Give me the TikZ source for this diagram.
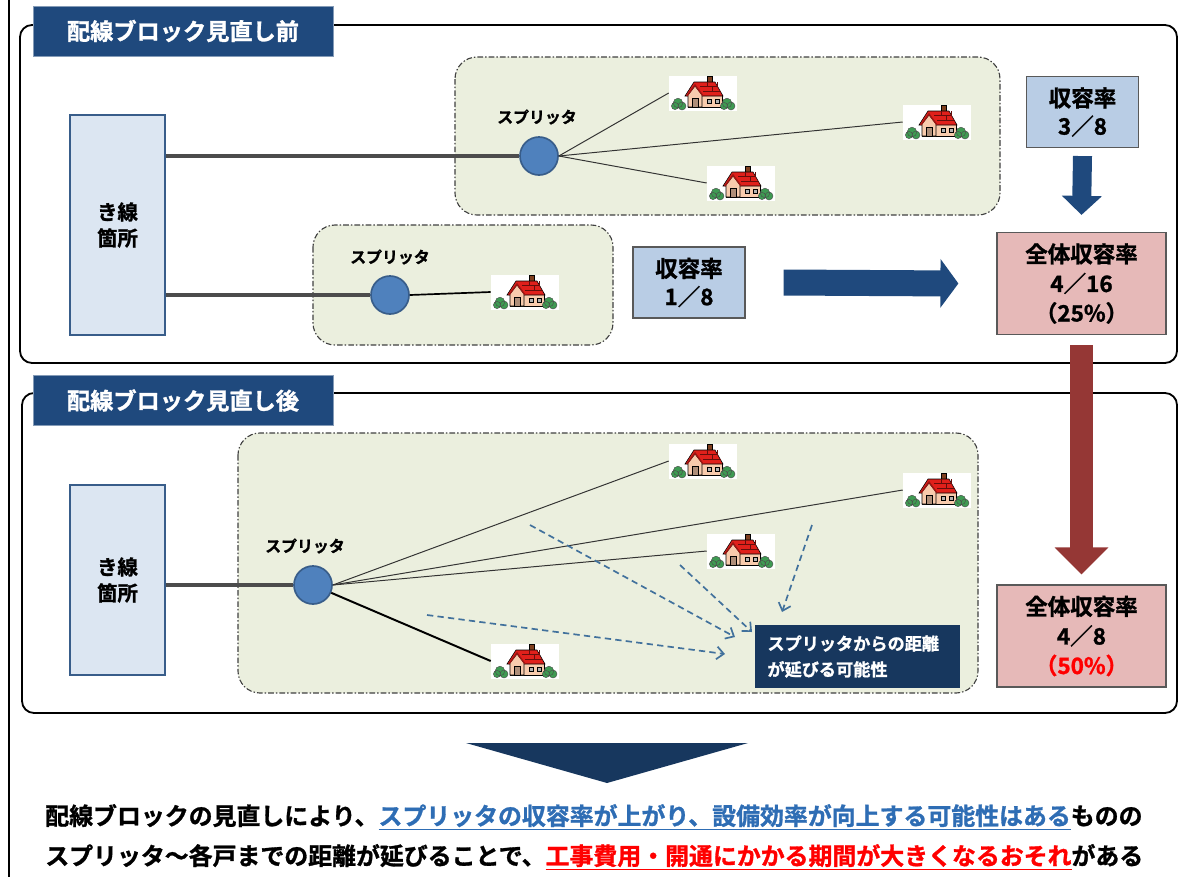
\documentclass[tikz,border=0pt]{standalone}
\usepackage{fontspec}
\setmainfont{Noto Sans CJK JP}[BoldFont={Noto Sans CJK JP Bold}, BoldFeatures={FakeBold=1.2}]
\usetikzlibrary{arrows.meta}

\definecolor{tabblue}{HTML}{1F497D}
\definecolor{navy}{HTML}{17375E}
\definecolor{feederfill}{HTML}{DCE6F2}
\definecolor{feederedge}{HTML}{385D8A}
\definecolor{groupfill}{HTML}{EBEFDE}
\definecolor{splitfill}{HTML}{4F81BD}
\definecolor{ratefill}{HTML}{B9CDE5}
\definecolor{totalfill}{HTML}{E6B9B8}
\definecolor{redarrow}{HTML}{953735}
\definecolor{dashblue}{HTML}{41719C}
\definecolor{noteblue}{HTML}{2E6DB4}
\definecolor{roofred}{HTML}{E0201B}
\definecolor{wallpink}{HTML}{F8CBAD}
\definecolor{bush}{HTML}{3E9A52}
\definecolor{chimney}{HTML}{7F3F1F}

\tikzset{
  tab/.style={fill=tabblue, draw=tabblue!55!white, text=white, font=\bfseries\fontsize{16.5}{20}\selectfont, minimum width=7.5cm, minimum height=1.25cm, inner sep=0pt},
  section/.style={line width=1.3pt, rounded corners=0.3cm},
  group/.style={draw=black!75, fill=groupfill, line width=0.8pt, rounded corners=0.55cm, dash pattern=on 4pt off 1.5pt on 1pt off 1.5pt},
  feeder/.style={draw=feederedge, fill=feederfill, line width=1.6pt, minimum width=2.375cm, align=center, font=\bfseries\fontsize{14.5}{18.5}\selectfont},
  splitter/.style={circle, draw=feederedge, fill=splitfill, line width=1.2pt, minimum size=0.95cm, inner sep=0pt},
  splitlabel/.style={font=\bfseries\fontsize{11.3}{13}\selectfont},
  feed/.style={draw=black!70, line width=2.4pt},
  drop/.style={draw=black!80, line width=0.7pt},
  rate/.style={draw=black!65, fill=ratefill, line width=0.8pt, minimum width=2.8cm, minimum height=1.775cm, align=center, font=\bfseries\fontsize{16}{20}\selectfont},
  total/.style={draw=black!65, fill=totalfill, line width=0.8pt, minimum width=4.225cm, minimum height=2.55cm, align=center, font=\bfseries\fontsize{16}{21}\selectfont},
  note/.style={fill=navy, text=white, minimum width=5.125cm, minimum height=1.575cm, text width=4.5cm, align=left, inner xsep=0.3cm, font=\bfseries\fontsize{12.2}{18.4}\selectfont},
  bigarrow/.style={draw=tabblue, line width=0.65cm, -{Triangle[length=0.45cm,width=1.2cm]}},
  downarrow/.style={draw=tabblue, line width=0.475cm, -{Triangle[length=0.475cm,width=0.975cm]}},
  uparrow/.style={draw=redarrow, line width=0.575cm, -{Triangle[length=0.675cm,width=1.3cm]}},
  longer/.style={draw=dashblue, line width=1.2pt, dash pattern=on 4.5pt off 3pt, -{Straight Barb[length=5pt,width=9pt]}},
  summary/.style={anchor=west, inner sep=0pt, font=\bfseries\fontsize{17}{20}\selectfont},
  house/.pic={
    \node[fill=white, minimum width=1.7cm, minimum height=0.875cm, inner sep=0pt] (-box) {};
    \filldraw[fill=chimney, draw=black, line width=0.3pt] (4,-17) rectangle (9,-8);
    \filldraw[fill=wallpink, draw=black, line width=0.4pt] (-15,2) rectangle (19,14);
    \filldraw[fill=roofred, draw=black, line width=0.4pt] (-18,3) -- (-9,-11) -- (12,-11) -- (20,3) -- cycle;
    \draw[black!55!roofred, line width=0.25pt] (-3,-7) -- (15,-7) (0,-2) -- (18,-2) (4,-11) -- (4,-7) (9,-7) -- (9,-2) (14,-11) -- (14,-7);
    \filldraw[fill=wallpink, draw=black, line width=0.4pt] (-15,14) -- (-15,2) -- (-8,-7) -- (-1,2) -- (-1,14) -- cycle;
    \draw[roofred!70!black, line width=1pt] (-16,3) -- (-8,-8) -- (0,3);
    \filldraw[fill=wallpink!70!black, draw=black, line width=0.4pt] (-11,14) rectangle (-5,5);
    \filldraw[fill=gray!60, draw=black, line width=0.3pt] (4,6) rectangle (8,10) (12,6) rectangle (16,10);
    \filldraw[fill=bush, draw=black!70, line width=0.3pt] (-25,10) circle[radius=0.12cm] (-21,13) circle[radius=0.1cm] (-28,13) circle[radius=0.09cm];
    \filldraw[fill=bush, draw=black!70, line width=0.3pt] (24,10) circle[radius=0.12cm] (28,13) circle[radius=0.1cm] (21,13) circle[radius=0.09cm];
  }
}

\begin{document}
\begin{tikzpicture}[x=0.025cm, y=-0.025cm]
			%%%%% START %%%%%
			\useasboundingbox (0,0) rectangle (1179,877);
			\draw[line width=1pt] (9,0) -- (9,877);
			
			\draw[section] (20,25) rectangle (1177,363);
			\node[tab] (taba) at (183,31) {配線ブロック見直し前};
			
			\node[feeder, minimum height=5.5cm] (f1) at (117.5,225) {き線\\箇所};
			\draw[group] (455,57) rectangle (1000,215);
			\draw[group] (313,225) rectangle (613,345);
			
			\node[splitter] (s1) at (539,156) {};
			\node[splitlabel] (l1) at (537,117) {スプリッタ};
			\pic (a1) at (703,93) {house};
			\pic (a2) at (937,122) {house};
			\pic (a3) at (741,183) {house};
			\draw[feed] (f1.east |- s1.west) -- (s1.west);
			\draw[drop] (s1.east) -- (a1-box.west);
			\draw[drop] (s1.east) -- (a2-box.west);
			\draw[drop] (s1.east) -- (a3-box.west);
			
			\node[splitter] (s2) at (390,295) {};
			\node[splitlabel] (l2) at (390,257) {スプリッタ};
			\pic (b1) at (525,292) {house};
			\draw[feed] (f1.east |- s2.west) -- (s2.west);
			\draw[drop, line width=1.2pt, draw=black] (s2.east) -- (b1-box.west);
			
			\node[rate] (r1) at (689,282.5) {収容率\\1／8};
			\node[rate] (r2) at (1082.5,112) {収容率\\3／8};
			\node[total] (t1) at (1081.5,283.5) {全体収容率\\4／16\\（25\%）};
			\draw[bigarrow] ([xshift=0.95cm]r1.east) -- ([xshift=-0.95cm]t1.west);
			\draw[downarrow] ([yshift=-0.2cm]r2.south) -- ([yshift=0.425cm]t1.north);
			
			\draw[section] (22,393) rectangle (1177,713);
			\node[tab] (tabb) at (183,400.5) {配線ブロック見直し後};
			
			\node[feeder, minimum height=4.75cm] (f2) at (117.5,580) {き線\\箇所};
			\draw[group] (238,433) rectangle (978,693);
			
			\node[splitter] (s3) at (313,585) {};
			\node[splitlabel] (l3) at (305,546) {スプリッタ};
			\pic (c1) at (703,461) {house};
			\pic (c2) at (937,490) {house};
			\pic (c3) at (741,551) {house};
			\pic (c4) at (525,661) {house};
			\draw[feed] (f2.east |- s3.west) -- (s3.west);
			\draw[drop] (s3.east) -- (c1-box.west);
			\draw[drop] (s3.east) -- (c2-box.west);
			\draw[drop] (s3.east) -- (c3-box.west);
			\draw[drop, line width=1.4pt, draw=black] (s3) -- (c4-box.west);
			
			\node[note] (n1) at (857.5,656.5) {スプリッタからの距離\\が延びる可能性};
			\coordinate (d1s) at (427,615);
			\coordinate (d1e) at (725,654);
			\coordinate (d2s) at (530,525);
			\coordinate (d2e) at (735,637);
			\coordinate (d3s) at (680,565);
			\coordinate (d3e) at (752,632);
			\coordinate (d4s) at (812,525);
			\coordinate (d4e) at (782,612);
			\draw[longer] (d1s) -- (d1e);
			\draw[longer] (d2s) -- (d2e);
			\draw[longer] (d3s) -- (d3e);
			\draw[longer] (d4s) -- (d4e);
			
			\node[total] (t2) at (1081.5,636) {全体収容率\\4／8\\\textcolor{red}{（50\%）}};
			\draw[uparrow] ([yshift=-0.25cm]t1.south) -- ([yshift=0.25cm]t2.north);
			
			\fill[navy] (466,743) -- (748,743) -- (607,783) -- cycle;
			\node[summary] (sum1) at (45,817) {配線ブロックの見直しにより、\textcolor{noteblue}{\underline{スプリッタの収容率が上がり、設備効率が向上する可能性はある}}ものの};
			\node[summary] (sum2) at (45,857) {スプリッタ～各戸までの距離が延びることで、\textcolor{red}{\underline{工事費用・開通にかかる期間が大きくなるおそれ}}がある};
			%%%%% END %%%%%
\end{tikzpicture}
\end{document}
